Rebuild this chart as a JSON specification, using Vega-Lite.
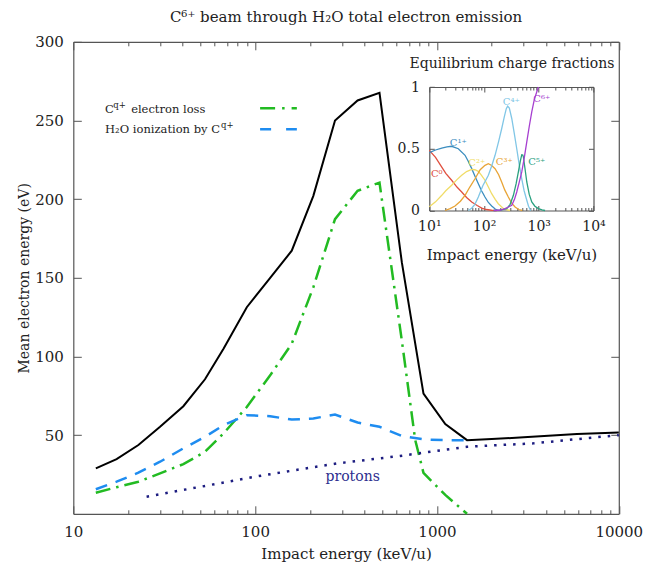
{
  "$schema": "https://vega.github.io/schema/vega-lite/v6.json",
  "width": 545.5,
  "height": 472,
  "autosize": {"type": "none"},
  "padding": {"left": 73.3, "top": 41.8, "right": 29.2, "bottom": 52.2},
  "background": "white",
  "title": {"text": "C⁶⁺ beam through H₂O total electron emission", "font": "DejaVu Serif", "fontSize": 15, "fontWeight": "normal", "color": "#222", "offset": 10, "anchor": "middle"},
  "config": {
    "view": {"stroke": null},
    "axis": {
      "labelFont": "DejaVu Serif",
      "titleFont": "DejaVu Serif",
      "labelFontSize": 15,
      "titleFontSize": 15,
      "titleFontWeight": "normal",
      "labelColor": "#222",
      "titleColor": "#222",
      "domainColor": "#555",
      "tickColor": "#555",
      "domainWidth": 1.2,
      "tickWidth": 1,
      "grid": false,
      "labelFlush": false,
      "labelOverlap": false
    },
    "text": {"font": "DejaVu Serif"}
  },
  "datasets": {
    "main": [
      {"s": "total", "E": 13.3, "v": 28.9}, {"s": "total", "E": 17.3, "v": 34.8}, {"s": "total", "E": 22.8, "v": 43.7},
      {"s": "total", "E": 30, "v": 55.3}, {"s": "total", "E": 40.3, "v": 68.4}, {"s": "total", "E": 53, "v": 85.5},
      {"s": "total", "E": 67, "v": 104.9}, {"s": "total", "E": 90, "v": 131.3}, {"s": "total", "E": 121, "v": 150},
      {"s": "total", "E": 159, "v": 167.2}, {"s": "total", "E": 209, "v": 202.1}, {"s": "total", "E": 275, "v": 250},
      {"s": "total", "E": 366, "v": 262.7}, {"s": "total", "E": 483, "v": 267.6}, {"s": "total", "E": 641, "v": 159.8},
      {"s": "total", "E": 843, "v": 76.4}, {"s": "total", "E": 1111, "v": 57}, {"s": "total", "E": 1463, "v": 46.8},
      {"s": "total", "E": 2000, "v": 47.5}, {"s": "total", "E": 3000, "v": 48.6}, {"s": "total", "E": 5890, "v": 50.7},
      {"s": "total", "E": 10000, "v": 51.7},
      {"s": "loss", "E": 13.3, "v": 13.4}, {"s": "loss", "E": 17.3, "v": 16.9}, {"s": "loss", "E": 22.8, "v": 20.4},
      {"s": "loss", "E": 30, "v": 25.7}, {"s": "loss", "E": 40.3, "v": 31.6}, {"s": "loss", "E": 53, "v": 39.4},
      {"s": "loss", "E": 67, "v": 51.1}, {"s": "loss", "E": 90, "v": 67.9}, {"s": "loss", "E": 121, "v": 88},
      {"s": "loss", "E": 159, "v": 108.1}, {"s": "loss", "E": 209, "v": 144}, {"s": "loss", "E": 275, "v": 187.3},
      {"s": "loss", "E": 366, "v": 205.3}, {"s": "loss", "E": 483, "v": 210.5}, {"s": "loss", "E": 641, "v": 110},
      {"s": "loss", "E": 759, "v": 47}, {"s": "loss", "E": 843, "v": 26}, {"s": "loss", "E": 1111, "v": 12},
      {"s": "loss", "E": 1463, "v": 0},
      {"s": "ion", "E": 13.3, "v": 15.6}, {"s": "ion", "E": 17.3, "v": 20.4}, {"s": "ion", "E": 22.8, "v": 26.1},
      {"s": "ion", "E": 30, "v": 33.1}, {"s": "ion", "E": 40.3, "v": 41.6}, {"s": "ion", "E": 53, "v": 48.9},
      {"s": "ion", "E": 67, "v": 56.3}, {"s": "ion", "E": 90, "v": 62.7}, {"s": "ion", "E": 121, "v": 62},
      {"s": "ion", "E": 159, "v": 59.9}, {"s": "ion", "E": 209, "v": 60.6}, {"s": "ion", "E": 275, "v": 63.1},
      {"s": "ion", "E": 366, "v": 58}, {"s": "ion", "E": 483, "v": 55.3}, {"s": "ion", "E": 641, "v": 49.4},
      {"s": "ion", "E": 843, "v": 47.3}, {"s": "ion", "E": 1111, "v": 46.8}, {"s": "ion", "E": 1463, "v": 46.8},
      {"s": "protons", "E": 25.3, "v": 10.9}, {"s": "protons", "E": 40, "v": 15.1}, {"s": "protons", "E": 100, "v": 23.6},
      {"s": "protons", "E": 280, "v": 32}, {"s": "protons", "E": 620, "v": 36.7}, {"s": "protons", "E": 1460, "v": 42.6},
      {"s": "protons", "E": 3400, "v": 44.8}, {"s": "protons", "E": 10000, "v": 50}
    ],
    "legendLine": [
      {"s": "loss", "E": 106.5, "v": 257.7}, {"s": "loss", "E": 169.6, "v": 257.7},
      {"s": "ion", "E": 106.5, "v": 244.4}, {"s": "ion", "E": 169.6, "v": 244.4}
    ],
    "legendText": [
      {"t": "C", "E": 14.95, "v": 256.4},
      {"t": "electron loss", "E": 20.8, "v": 256.4},
      {"t": "H₂O ionization by C", "E": 14.95, "v": 243.7}
    ],
    "legendSup": [
      {"t": "q+", "E": 16.6, "v": 256.4},
      {"t": "q+", "E": 65.0, "v": 243.7}
    ],
    "protonsLabel": [{"t": "protons", "E": 344, "v": 23.6}],
    "fractions": [
      {"s": "C0", "E": 10, "f": 0.487}, {"s": "C0", "E": 13, "f": 0.43}, {"s": "C0", "E": 16.9, "f": 0.352},
      {"s": "C0", "E": 20, "f": 0.3}, {"s": "C0", "E": 25.6, "f": 0.245}, {"s": "C0", "E": 32, "f": 0.19},
      {"s": "C0", "E": 39.1, "f": 0.15}, {"s": "C0", "E": 48, "f": 0.105}, {"s": "C0", "E": 59.6, "f": 0.069},
      {"s": "C0", "E": 75, "f": 0.04}, {"s": "C0", "E": 90.8, "f": 0.02}, {"s": "C0", "E": 110, "f": 0.008},
      {"s": "C0", "E": 138, "f": 0.002}, {"s": "C0", "E": 170, "f": 0},
      {"s": "C1", "E": 10, "f": 0.468}, {"s": "C1", "E": 13, "f": 0.49}, {"s": "C1", "E": 16.9, "f": 0.506},
      {"s": "C1", "E": 21, "f": 0.516}, {"s": "C1", "E": 25.6, "f": 0.52}, {"s": "C1", "E": 33.9, "f": 0.5},
      {"s": "C1", "E": 45, "f": 0.447}, {"s": "C1", "E": 52, "f": 0.395}, {"s": "C1", "E": 59.6, "f": 0.339},
      {"s": "C1", "E": 68, "f": 0.28}, {"s": "C1", "E": 78.7, "f": 0.217}, {"s": "C1", "E": 90, "f": 0.16},
      {"s": "C1", "E": 104, "f": 0.109}, {"s": "C1", "E": 120, "f": 0.065}, {"s": "C1", "E": 138, "f": 0.036},
      {"s": "C1", "E": 160, "f": 0.012}, {"s": "C1", "E": 182, "f": 0},
      {"s": "C2", "E": 10, "f": 0.03}, {"s": "C2", "E": 13, "f": 0.07}, {"s": "C2", "E": 16.9, "f": 0.123},
      {"s": "C2", "E": 20, "f": 0.16}, {"s": "C2", "E": 25.6, "f": 0.204}, {"s": "C2", "E": 32, "f": 0.25},
      {"s": "C2", "E": 39.1, "f": 0.285}, {"s": "C2", "E": 48, "f": 0.315}, {"s": "C2", "E": 59.6, "f": 0.333},
      {"s": "C2", "E": 68, "f": 0.33}, {"s": "C2", "E": 78.7, "f": 0.317}, {"s": "C2", "E": 90, "f": 0.285},
      {"s": "C2", "E": 104, "f": 0.245}, {"s": "C2", "E": 120, "f": 0.19}, {"s": "C2", "E": 138, "f": 0.136},
      {"s": "C2", "E": 160, "f": 0.09}, {"s": "C2", "E": 182, "f": 0.055}, {"s": "C2", "E": 220, "f": 0.02},
      {"s": "C2", "E": 260, "f": 0.006}, {"s": "C2", "E": 300, "f": 0},
      {"s": "C3", "E": 19.4, "f": 0}, {"s": "C3", "E": 24, "f": 0.015}, {"s": "C3", "E": 29.5, "f": 0.036},
      {"s": "C3", "E": 37, "f": 0.075}, {"s": "C3", "E": 45, "f": 0.123}, {"s": "C3", "E": 55, "f": 0.19},
      {"s": "C3", "E": 68.4, "f": 0.257}, {"s": "C3", "E": 85, "f": 0.33}, {"s": "C3", "E": 104, "f": 0.366},
      {"s": "C3", "E": 120, "f": 0.379}, {"s": "C3", "E": 138, "f": 0.365}, {"s": "C3", "E": 159, "f": 0.338},
      {"s": "C3", "E": 185, "f": 0.29}, {"s": "C3", "E": 210, "f": 0.231}, {"s": "C3", "E": 240, "f": 0.165},
      {"s": "C3", "E": 278, "f": 0.109}, {"s": "C3", "E": 320, "f": 0.06}, {"s": "C3", "E": 369, "f": 0.028},
      {"s": "C3", "E": 430, "f": 0.008}, {"s": "C3", "E": 500, "f": 0},
      {"s": "C4", "E": 51.6, "f": 0}, {"s": "C4", "E": 60, "f": 0.02}, {"s": "C4", "E": 68, "f": 0.05},
      {"s": "C4", "E": 78.7, "f": 0.109}, {"s": "C4", "E": 95, "f": 0.2}, {"s": "C4", "E": 120, "f": 0.285},
      {"s": "C4", "E": 138, "f": 0.36}, {"s": "C4", "E": 159, "f": 0.447}, {"s": "C4", "E": 185, "f": 0.56},
      {"s": "C4", "E": 210, "f": 0.662}, {"s": "C4", "E": 235, "f": 0.76}, {"s": "C4", "E": 255, "f": 0.825},
      {"s": "C4", "E": 270, "f": 0.845}, {"s": "C4", "E": 290, "f": 0.83}, {"s": "C4", "E": 321, "f": 0.745},
      {"s": "C4", "E": 355, "f": 0.63}, {"s": "C4", "E": 396, "f": 0.5}, {"s": "C4", "E": 440, "f": 0.37},
      {"s": "C4", "E": 489, "f": 0.257}, {"s": "C4", "E": 540, "f": 0.16}, {"s": "C4", "E": 604, "f": 0.083},
      {"s": "C4", "E": 650, "f": 0.035}, {"s": "C4", "E": 700, "f": 0.005}, {"s": "C4", "E": 720, "f": 0},
      {"s": "C5", "E": 150, "f": 0}, {"s": "C5", "E": 200, "f": 0.003}, {"s": "C5", "E": 260, "f": 0.015},
      {"s": "C5", "E": 300, "f": 0.05}, {"s": "C5", "E": 344, "f": 0.123}, {"s": "C5", "E": 385, "f": 0.215},
      {"s": "C5", "E": 424, "f": 0.312}, {"s": "C5", "E": 460, "f": 0.4}, {"s": "C5", "E": 489, "f": 0.452},
      {"s": "C5", "E": 510, "f": 0.45}, {"s": "C5", "E": 524, "f": 0.433}, {"s": "C5", "E": 560, "f": 0.34},
      {"s": "C5", "E": 604, "f": 0.231}, {"s": "C5", "E": 670, "f": 0.13}, {"s": "C5", "E": 745, "f": 0.069},
      {"s": "C5", "E": 850, "f": 0.035}, {"s": "C5", "E": 985, "f": 0.015}, {"s": "C5", "E": 1150, "f": 0.005},
      {"s": "C5", "E": 1303, "f": 0},
      {"s": "C6", "E": 150, "f": 0}, {"s": "C6", "E": 200, "f": 0.004}, {"s": "C6", "E": 242, "f": 0.015},
      {"s": "C6", "E": 280, "f": 0.028}, {"s": "C6", "E": 321, "f": 0.042}, {"s": "C6", "E": 360, "f": 0.09},
      {"s": "C6", "E": 396, "f": 0.15}, {"s": "C6", "E": 440, "f": 0.23}, {"s": "C6", "E": 489, "f": 0.312},
      {"s": "C6", "E": 545, "f": 0.43}, {"s": "C6", "E": 604, "f": 0.555}, {"s": "C6", "E": 670, "f": 0.68},
      {"s": "C6", "E": 745, "f": 0.798}, {"s": "C6", "E": 830, "f": 0.9}, {"s": "C6", "E": 918, "f": 0.96},
      {"s": "C6", "E": 985, "f": 1.0}
    ],
    "fracLabels": [
      {"s": "C0", "t": "C⁰", "E": 13.7, "f": 0.298},
      {"s": "C1", "t": "C¹⁺", "E": 33.9, "f": 0.55},
      {"s": "C2", "t": "C²⁺", "E": 73.5, "f": 0.385},
      {"s": "C3", "t": "C³⁺", "E": 235, "f": 0.395},
      {"s": "C4", "t": "C⁴⁺", "E": 315, "f": 0.88},
      {"s": "C5", "t": "C⁵⁺", "E": 918, "f": 0.395},
      {"s": "C6", "t": "C⁶⁺", "E": 1135, "f": 0.905}
    ]
  },
  "layer": [
    {
      "layer": [
        {
          "data": {"name": "main"},
          "transform": [{"filter": "datum.s == 'total'"}],
          "mark": {"type": "line", "color": "black", "strokeWidth": 2},
          "encoding": {
            "x": {"field": "E", "type": "quantitative", "scale": {"type": "log", "domain": [10, 10000], "nice": false},
              "axis": {"orient": "bottom", "values": [10, 100, 1000, 10000], "format": "d", "tickSize": -8, "labelPadding": 19, "title": "Impact energy (keV/u)", "titlePadding": 7}},
            "y": {"field": "v", "type": "quantitative", "scale": {"domain": [0, 300], "nice": false, "zero": false},
              "axis": {"orient": "left", "values": [50, 100, 150, 200, 250, 300], "tickSize": -8, "labelPadding": 18, "title": "Mean electron energy (eV)", "titlePadding": 3, "titleFontSize": 14}}
          }
        },
        {
          "data": {"name": "main"},
          "transform": [{"filter": "datum.s == 'loss'"}],
          "mark": {"type": "line", "color": "#22bb22", "strokeWidth": 2.5, "strokeDash": [15, 6, 2.5, 6]},
          "encoding": {
            "x": {"field": "E", "type": "quantitative", "scale": {"type": "log", "domain": [10, 10000], "nice": false},
              "axis": {"orient": "bottom", "values": [20, 30, 40, 50, 60, 70, 80, 90, 200, 300, 400, 500, 600, 700, 800, 900, 2000, 3000, 4000, 5000, 6000, 7000, 8000, 9000], "tickSize": -4, "labels": false, "domain": false, "title": null}},
            "y": {"field": "v", "type": "quantitative", "scale": {"domain": [0, 300], "nice": false, "zero": false},
              "axis": {"orient": "right", "values": [50, 100, 150, 200, 250, 300], "tickSize": -8, "labels": false, "title": null}}
          }
        },
        {
          "data": {"name": "main"},
          "transform": [{"filter": "datum.s == 'ion'"}],
          "mark": {"type": "line", "color": "#1e8cf0", "strokeWidth": 2.5, "strokeDash": [12, 9]},
          "encoding": {
            "x": {"field": "E", "type": "quantitative", "scale": {"type": "log", "domain": [10, 10000], "nice": false},
              "axis": {"orient": "top", "values": [10, 100, 1000, 10000], "tickSize": -8, "labels": false, "title": null}},
            "y": {"field": "v", "type": "quantitative", "scale": {"domain": [0, 300], "nice": false, "zero": false}, "axis": null}
          }
        },
        {
          "data": {"name": "main"},
          "transform": [{"filter": "datum.s == 'protons'"}],
          "mark": {"type": "line", "color": "#1c1c80", "strokeWidth": 2.5, "strokeDash": [2.5, 7]},
          "encoding": {
            "x": {"field": "E", "type": "quantitative", "scale": {"type": "log", "domain": [10, 10000], "nice": false},
              "axis": {"orient": "top", "values": [20, 30, 40, 50, 60, 70, 80, 90, 200, 300, 400, 500, 600, 700, 800, 900, 2000, 3000, 4000, 5000, 6000, 7000, 8000, 9000], "tickSize": -4, "labels": false, "domain": false, "title": null}},
            "y": {"field": "v", "type": "quantitative", "scale": {"domain": [0, 300], "nice": false, "zero": false}, "axis": null}
          }
        },
        {
          "data": {"name": "legendLine"},
          "transform": [{"filter": "datum.s == 'loss'"}],
          "mark": {"type": "line", "color": "#22bb22", "strokeWidth": 2.5, "strokeDash": [15, 7, 2.5, 7]},
          "encoding": {
            "x": {"field": "E", "type": "quantitative", "scale": {"type": "log", "domain": [10, 10000], "nice": false}, "axis": null},
            "y": {"field": "v", "type": "quantitative", "scale": {"domain": [0, 300], "nice": false, "zero": false}, "axis": null}
          }
        },
        {
          "data": {"name": "legendLine"},
          "transform": [{"filter": "datum.s == 'ion'"}],
          "mark": {"type": "line", "color": "#1e8cf0", "strokeWidth": 2.5, "strokeDash": [11, 15]},
          "encoding": {
            "x": {"field": "E", "type": "quantitative", "scale": {"type": "log", "domain": [10, 10000], "nice": false}, "axis": null},
            "y": {"field": "v", "type": "quantitative", "scale": {"domain": [0, 300], "nice": false, "zero": false}, "axis": null}
          }
        },
        {
          "data": {"name": "legendText"},
          "mark": {"type": "text", "align": "left", "baseline": "middle", "fontSize": 11.5, "color": "#222"},
          "encoding": {
            "x": {"field": "E", "type": "quantitative", "scale": {"type": "log", "domain": [10, 10000], "nice": false}, "axis": null},
            "y": {"field": "v", "type": "quantitative", "scale": {"domain": [0, 300], "nice": false, "zero": false}, "axis": null},
            "text": {"field": "t"}
          }
        },
        {
          "data": {"name": "legendSup"},
          "mark": {"type": "text", "align": "left", "baseline": "middle", "fontSize": 8.5, "dy": -5, "color": "#222"},
          "encoding": {
            "x": {"field": "E", "type": "quantitative", "scale": {"type": "log", "domain": [10, 10000], "nice": false}, "axis": null},
            "y": {"field": "v", "type": "quantitative", "scale": {"domain": [0, 300], "nice": false, "zero": false}, "axis": null},
            "text": {"field": "t"}
          }
        },
        {
          "data": {"name": "protonsLabel"},
          "mark": {"type": "text", "align": "center", "baseline": "middle", "fontSize": 14, "color": "#2e2e8e"},
          "encoding": {
            "x": {"field": "E", "type": "quantitative", "scale": {"type": "log", "domain": [10, 10000], "nice": false}, "axis": null},
            "y": {"field": "v", "type": "quantitative", "scale": {"domain": [0, 300], "nice": false, "zero": false}, "axis": null},
            "text": {"field": "t"}
          }
        }
      ],
      "resolve": {"axis": {"x": "independent", "y": "independent"}}
    },
    {
      "layer": [
        {
          "data": {"name": "fractions"},
          "transform": [{"filter": "indexof(['C0','C1','C2','C3'], datum.s) >= 0"}],
          "mark": {"type": "line", "strokeWidth": 1.3},
          "encoding": {
            "x": {"field": "E", "type": "quantitative", "scale": {"type": "log", "domain": [10, 10000], "range": [356, 520.2], "nice": false},
              "axis": {"orient": "bottom", "offset": -303.3, "values": [10, 100, 1000, 10000], "labelExpr": "datum.value == 10 ? '10¹' : datum.value == 100 ? '10²' : datum.value == 1000 ? '10³' : '10⁴'", "tickSize": -5, "labelPadding": 14, "labelFontSize": 14, "title": "Impact energy (keV/u)", "titlePadding": 14, "titleFontSize": 15}},
            "y": {"field": "f", "type": "quantitative", "scale": {"domain": [0, 1], "range": [168.7, 45.2], "nice": false, "zero": false},
              "axis": {"orient": "left", "offset": -356, "values": [0, 0.5, 1], "format": "~g", "tickSize": -5, "labelPadding": 15, "labelFontSize": 14, "title": null}},
            "color": {"field": "s", "type": "nominal", "scale": {"domain": ["C0", "C1", "C2", "C3", "C4", "C5", "C6"], "range": ["#e0503f", "#3b8dbf", "#f0dc68", "#e8a436", "#80c6e6", "#2aa07f", "#a63fd0"]}, "legend": null}
          }
        },
        {
          "data": {"name": "fractions"},
          "transform": [{"filter": "indexof(['C4','C5','C6'], datum.s) >= 0"}],
          "mark": {"type": "line", "strokeWidth": 1.3},
          "encoding": {
            "x": {"field": "E", "type": "quantitative", "scale": {"type": "log", "domain": [10, 10000], "range": [356, 520.2], "nice": false},
              "axis": {"orient": "bottom", "offset": -303.3, "values": [20, 30, 40, 50, 60, 70, 80, 90, 200, 300, 400, 500, 600, 700, 800, 900, 2000, 3000, 4000, 5000, 6000, 7000, 8000, 9000], "tickSize": -3, "labels": false, "domain": false, "title": null}},
            "y": {"field": "f", "type": "quantitative", "scale": {"domain": [0, 1], "range": [168.7, 45.2], "nice": false, "zero": false},
              "axis": {"orient": "right", "offset": -25.3, "values": [0, 0.5, 1], "tickSize": -5, "labels": false, "title": null}},
            "color": {"field": "s", "type": "nominal", "legend": null}
          }
        },
        {
          "data": {"name": "fracLabels"},
          "transform": [{"filter": "indexof(['C0','C1','C2','C3'], datum.s) >= 0"}],
          "mark": {"type": "text", "align": "center", "baseline": "middle", "fontSize": 10},
          "encoding": {
            "x": {"field": "E", "type": "quantitative", "scale": {"type": "log", "domain": [10, 10000], "range": [356, 520.2], "nice": false},
              "axis": {"orient": "top", "offset": -45.2, "values": [10, 100, 1000, 10000], "tickSize": -5, "labels": false, "title": "Equilibrium charge fractions", "titlePadding": 16, "titleFontSize": 14}},
            "y": {"field": "f", "type": "quantitative", "scale": {"domain": [0, 1], "range": [168.7, 45.2], "nice": false, "zero": false}, "axis": null},
            "color": {"field": "s", "type": "nominal", "legend": null},
            "text": {"field": "t"}
          }
        },
        {
          "data": {"name": "fracLabels"},
          "transform": [{"filter": "indexof(['C4','C5','C6'], datum.s) >= 0"}],
          "mark": {"type": "text", "align": "center", "baseline": "middle", "fontSize": 10},
          "encoding": {
            "x": {"field": "E", "type": "quantitative", "scale": {"type": "log", "domain": [10, 10000], "range": [356, 520.2], "nice": false},
              "axis": {"orient": "top", "offset": -45.2, "values": [20, 30, 40, 50, 60, 70, 80, 90, 200, 300, 400, 500, 600, 700, 800, 900, 2000, 3000, 4000, 5000, 6000, 7000, 8000, 9000], "tickSize": -3, "labels": false, "domain": false, "title": null}},
            "y": {"field": "f", "type": "quantitative", "scale": {"domain": [0, 1], "range": [168.7, 45.2], "nice": false, "zero": false}, "axis": null},
            "color": {"field": "s", "type": "nominal", "legend": null},
            "text": {"field": "t"}
          }
        }
      ],
      "resolve": {"axis": {"x": "independent", "y": "independent"}}
    }
  ],
  "resolve": {"scale": {"x": "independent", "y": "independent"}, "axis": {"x": "independent", "y": "independent"}}
}
